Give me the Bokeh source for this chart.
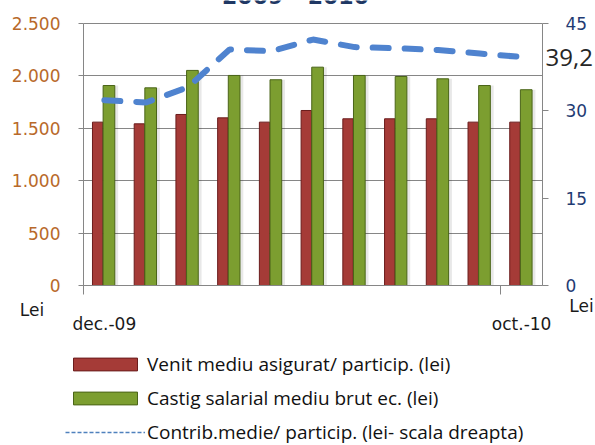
from bokeh.plotting import figure
from bokeh.models import (Range1d, LinearAxis, FixedTicker, Label, Legend,
                          LegendItem, ColumnDataSource, Grid)
from bokeh.embed import file_html
from bokeh.resources import INLINE

# ---- data ----
months = ["dec.-09", "ian.-10", "feb.-10", "mar.-10", "apr.-10", "mai.-10",
          "iun.-10", "iul.-10", "aug.-10", "sep.-10", "oct.-10"]
venit = [1557, 1541, 1630, 1598, 1557, 1668, 1589, 1589, 1589, 1557, 1557]
castig = [1906, 1884, 2050, 2002, 1961, 2081, 2002, 1992, 1970, 1906, 1866]
contrib = [31.8, 31.4, 34.0, 40.5, 40.2, 42.2, 40.9, 40.7, 40.4, 39.8, 39.2]
left_ticks = [0, 500, 1000, 1500, 2000, 2500]
left_labels = ["0", "500", "1.000", "1.500", "2.000", "2.500"]
right_ticks = [0, 15, 30, 45]
shown_months = ["dec.-09", "oct.-10"]
title_text = "2009 - 2010"
unit_text = "Lei"
legend_labels = ["Venit mediu asigurat/ particip. (lei)",
                 "Castig salarial mediu brut ec. (lei)",
                 "Contrib.medie/ particip. (lei- scala dreapta)"]

# ---- layout (page pixels) ----
W, H = 595, 445
n = len(months)
L_MAX, R_MAX = left_ticks[-1], right_ticks[-1]
PX0, PX1 = 83, 542                 # plot area left / right
PY_TOP, PY0 = 22.7, 285            # plot area top / bottom
PXU = (PX1 - PX0) / n
PYL = (PY0 - PY_TOP) / L_MAX
PYR = (PY0 - PY_TOP) / R_MAX


def dx(px):
    return (px - PX0) / PXU


def dy(py):
    return (PY0 - py) / PYL


x_rng = Range1d(dx(0), dx(W))
y_rng = Range1d(dy(H), dy(0))
r_rng = Range1d((PY0 - H) / PYR, PY0 / PYR)

idx = list(range(n))
src = ColumnDataSource(dict(
    xr=[i + 0.34 for i in idx],
    xg=[i + 0.61 for i in idx],
    xs=[i + 0.68 for i in idx],
    xl=[i + 0.5 for i in idx],
    venit=venit, castig=castig, contrib=contrib,
))

p = figure(width=W, height=H, x_range=x_rng, y_range=y_rng,
           output_backend="svg", toolbar_location=None,
           min_border=0, min_border_left=0, min_border_right=0,
           min_border_top=0, min_border_bottom=0)
p.extra_y_ranges = {"right": r_rng}
p.background_fill_color = "white"
p.border_fill_color = "white"
p.outline_line_color = None

GRAY = "#868686"
FONT = "DejaVu Sans"

# grid
p.xgrid.visible = False
yg = p.ygrid[0]
if "cross_bounds" in Grid.properties():
    yg.ticker = FixedTicker(ticks=left_ticks)
    yg.bounds = (-1, L_MAX + 1)
    yg.cross_bounds = (0, n)
    yg.grid_line_color = GRAY
    yg.grid_line_width = 1
else:
    yg.visible = False
    p.segment(x0=[0] * len(left_ticks), x1=[n] * len(left_ticks),
              y0=left_ticks, y1=left_ticks, line_color=GRAY, line_width=1)

# left axis
ya = p.yaxis[0]
ya.fixed_location = 0
ya.bounds = (0, L_MAX)
ya.ticker = FixedTicker(ticks=left_ticks)
ya.major_label_overrides = {t: l for t, l in zip(left_ticks, left_labels)}
ya.major_tick_out = 5
ya.major_tick_in = 0
ya.minor_tick_line_color = None
ya.axis_line_color = GRAY
ya.major_tick_line_color = GRAY
ya.major_label_standoff = 18
ya.major_label_text_color = "#b8692a"
ya.major_label_text_font = FONT
ya.major_label_text_font_size = "17px"

# right axis
ra = LinearAxis(y_range_name="right", ticker=FixedTicker(ticks=right_ticks))
ra.fixed_location = n
ra.bounds = (0, R_MAX)
ra.major_tick_out = 6
ra.major_tick_in = 0
ra.minor_tick_line_color = None
ra.axis_line_color = GRAY
ra.major_tick_line_color = GRAY
ra.major_label_standoff = 17
ra.major_label_text_color = "#1f3b73"
ra.major_label_text_font = FONT
ra.major_label_text_font_size = "17px"
p.add_layout(ra, "right")

# bottom axis: labels at first/last month, tick marks at category borders
xa = p.xaxis[0]
xa.fixed_location = 0
xa.bounds = (0, n)
lab_pos = [months.index(m) + 0.5 for m in shown_months]
xa.ticker = FixedTicker(ticks=lab_pos,
                        minor_ticks=[months.index(m) for m in shown_months])
xa.major_label_overrides = {x: m for x, m in zip(lab_pos, shown_months)}
xa.major_tick_out = 0
xa.major_tick_in = 0
xa.major_tick_line_color = None
xa.minor_tick_out = 9
xa.minor_tick_in = 0
xa.minor_tick_line_color = GRAY
xa.axis_line_color = GRAY
xa.major_label_standoff = 19
xa.major_label_text_color = "#1a1a1a"
xa.major_label_text_font = FONT
xa.major_label_text_font_size = "17px"

# bars, shadows and line
p.vbar(x="xs", top="castig", width=0.30, source=src, fill_color="#000000",
       fill_alpha=0.09, line_color=None)
r_red = p.vbar(x="xr", top="venit", width=0.25, source=src,
               fill_color="#a53b37", line_color="#6a1c1c", line_width=1)
r_green = p.vbar(x="xg", top="castig", width=0.28, source=src,
                 fill_color="#7c9e30", line_color="#4a6418", line_width=1)
p.line(x="xl", y="contrib", source=src, y_range_name="right",
       line_color="#4f83cf", line_width=6, line_dash="16 16", line_cap="round")
r_leg_line = p.line(x="xl", y="contrib", source=src, y_range_name="right",
                    line_color="#4f81bd", line_width=1.3, line_dash="4 2")
r_leg_line.visible = False

# texts
txt = dict(text_font=FONT, text_color="#1a1a1a", text_font_size="17px",
           text_baseline="middle")
p.add_layout(Label(x=dx(31.5), y=dy(309.5), text=unit_text,
                   text_align="center", **txt))
p.add_layout(Label(x=dx(581), y=dy(305), text=unit_text,
                   text_align="center", **txt))
p.add_layout(Label(x=n + 3 / PXU, y=contrib[-1], y_range_name="right",
                   text=f"{contrib[-1]:.1f}".replace(".", ","),
                   text_align="left", text_baseline="middle",
                   text_font="Open Sans", text_font_size="24px",
                   text_color="#262626"))
# title: only its lower edge is visible at the top of the picture
p.add_layout(Label(x=dx(295), y=dy(-4.5), text=title_text,
                   text_align="center", text_baseline="middle",
                   text_font=FONT, text_font_style="bold",
                   text_font_size="22px", text_color="#1f3864"))

legend = Legend(items=[LegendItem(label=legend_labels[0], renderers=[r_red]),
                       LegendItem(label=legend_labels[1], renderers=[r_green]),
                       LegendItem(label=legend_labels[2], renderers=[r_leg_line])],
                location=(65, 0))
legend.padding = 0
legend.margin = 0
legend.spacing = 8
legend.glyph_width = 80
legend.glyph_height = 16
legend.label_height = 20
legend.label_standoff = 2
legend.label_text_font = "Open Sans"
legend.label_text_font_size = "19px"
legend.label_text_color = "#111111"
legend.border_line_color = None
legend.background_fill_alpha = 0
p.add_layout(legend, "center")

open("out.html", "w").write(file_html(p, INLINE))
